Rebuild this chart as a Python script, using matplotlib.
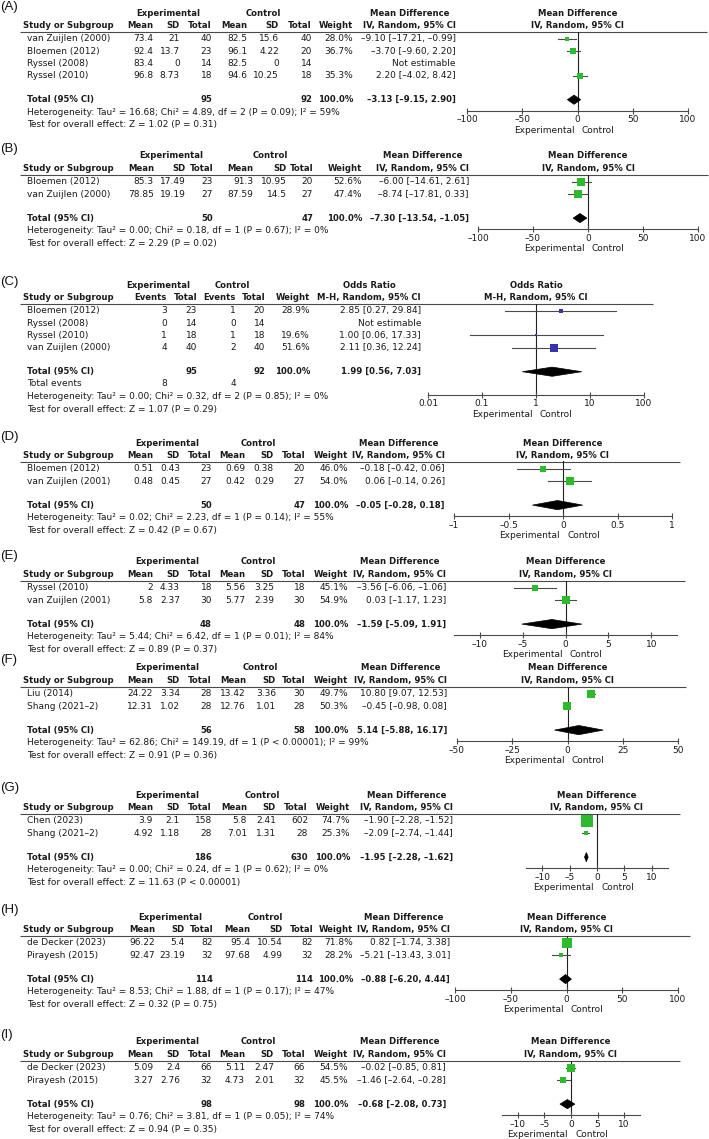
import matplotlib
matplotlib.use("Agg")
import matplotlib.pyplot as plt
from matplotlib.patches import Polygon
from matplotlib.ticker import NullLocator

# ---------------- DATA ----------------
# (A)
A_study = ["van Zuijlen (2000)", "Bloemen (2012)", "Ryssel (2008)", "Ryssel (2010)"]
A_exp_mean = [73.4, 92.4, 83.4, 96.8]
A_exp_sd = [21, 13.7, 0, 8.73]
A_exp_n = [40, 23, 14, 18]
A_ctl_mean = [82.5, 96.1, 82.5, 94.6]
A_ctl_sd = [15.6, 4.22, 0, 10.25]
A_ctl_n = [40, 20, 14, 18]
A_weight = [28.0, 36.7, None, 35.3]
A_est = [-9.10, -3.70, None, 2.20]
A_lo = [-17.21, -9.60, None, -4.02]
A_hi = [-0.99, 2.20, None, 8.42]
A_tot_n = [95, 92]
A_total = [-3.13, -9.15, 2.90]
A_het = "Heterogeneity: Tau² = 16.68; Chi² = 4.89, df = 2 (P = 0.09); I² = 59%"
A_test = "Test for overall effect: Z = 1.02 (P = 0.31)"
A_ticks = [-100, -50, 0, 50, 100]

# (B)
B_study = ["Bloemen (2012)", "van Zuijlen (2000)"]
B_exp_mean = [85.3, 78.85]
B_exp_sd = [17.49, 19.19]
B_exp_n = [23, 27]
B_ctl_mean = [91.3, 87.59]
B_ctl_sd = [10.95, 14.5]
B_ctl_n = [20, 27]
B_weight = [52.6, 47.4]
B_est = [-6.00, -8.74]
B_lo = [-14.61, -17.81]
B_hi = [2.61, 0.33]
B_tot_n = [50, 47]
B_total = [-7.30, -13.54, -1.05]
B_het = "Heterogeneity: Tau² = 0.00; Chi² = 0.18, df = 1 (P = 0.67); I² = 0%"
B_test = "Test for overall effect: Z = 2.29 (P = 0.02)"
B_ticks = [-100, -50, 0, 50, 100]

# (C) odds ratio
C_study = ["Bloemen (2012)", "Ryssel (2008)", "Ryssel (2010)", "van Zuijlen (2000)"]
C_exp_events = [3, 0, 1, 4]
C_exp_n = [23, 14, 18, 40]
C_ctl_events = [1, 0, 1, 2]
C_ctl_n = [20, 14, 18, 40]
C_weight = [28.9, None, 19.6, 51.6]
C_est = [2.85, None, 1.00, 2.11]
C_lo = [0.27, None, 0.06, 0.36]
C_hi = [29.84, None, 17.33, 12.24]
C_tot_n = [95, 92]
C_tot_events = [8, 4]
C_total = [1.99, 0.56, 7.03]
C_het = "Heterogeneity: Tau² = 0.00; Chi² = 0.32, df = 2 (P = 0.85); I² = 0%"
C_test = "Test for overall effect: Z = 1.07 (P = 0.29)"
C_ticks = [0.01, 0.1, 1, 10, 100]

# (D)
D_study = ["Bloemen (2012)", "van Zuijlen (2001)"]
D_exp_mean = [0.51, 0.48]
D_exp_sd = [0.43, 0.45]
D_exp_n = [23, 27]
D_ctl_mean = [0.69, 0.42]
D_ctl_sd = [0.38, 0.29]
D_ctl_n = [20, 27]
D_weight = [46.0, 54.0]
D_est = [-0.18, 0.06]
D_lo = [-0.42, -0.14]
D_hi = [0.06, 0.26]
D_tot_n = [50, 47]
D_total = [-0.05, -0.28, 0.18]
D_het = "Heterogeneity: Tau² = 0.02; Chi² = 2.23, df = 1 (P = 0.14); I² = 55%"
D_test = "Test for overall effect: Z = 0.42 (P = 0.67)"
D_ticks = [-1, -0.5, 0, 0.5, 1]

# (E)
E_study = ["Ryssel (2010)", "van Zuijlen (2001)"]
E_exp_mean = [2, 5.8]
E_exp_sd = [4.33, 2.37]
E_exp_n = [18, 30]
E_ctl_mean = [5.56, 5.77]
E_ctl_sd = [3.25, 2.39]
E_ctl_n = [18, 30]
E_weight = [45.1, 54.9]
E_est = [-3.56, 0.03]
E_lo = [-6.06, -1.17]
E_hi = [-1.06, 1.23]
E_tot_n = [48, 48]
E_total = [-1.59, -5.09, 1.91]
E_het = "Heterogeneity: Tau² = 5.44; Chi² = 6.42, df = 1 (P = 0.01); I² = 84%"
E_test = "Test for overall effect: Z = 0.89 (P = 0.37)"
E_ticks = [-10, -5, 0, 5, 10]

# (F)
F_study = ["Liu (2014)", "Shang (2021–2)"]
F_exp_mean = [24.22, 12.31]
F_exp_sd = [3.34, 1.02]
F_exp_n = [28, 28]
F_ctl_mean = [13.42, 12.76]
F_ctl_sd = [3.36, 1.01]
F_ctl_n = [30, 28]
F_weight = [49.7, 50.3]
F_est = [10.80, -0.45]
F_lo = [9.07, -0.98]
F_hi = [12.53, 0.08]
F_tot_n = [56, 58]
F_total = [5.14, -5.88, 16.17]
F_het = "Heterogeneity: Tau² = 62.86; Chi² = 149.19, df = 1 (P < 0.00001); I² = 99%"
F_test = "Test for overall effect: Z = 0.91 (P = 0.36)"
F_ticks = [-50, -25, 0, 25, 50]

# (G)
G_study = ["Chen (2023)", "Shang (2021–2)"]
G_exp_mean = [3.9, 4.92]
G_exp_sd = [2.1, 1.18]
G_exp_n = [158, 28]
G_ctl_mean = [5.8, 7.01]
G_ctl_sd = [2.41, 1.31]
G_ctl_n = [602, 28]
G_weight = [74.7, 25.3]
G_est = [-1.90, -2.09]
G_lo = [-2.28, -2.74]
G_hi = [-1.52, -1.44]
G_tot_n = [186, 630]
G_total = [-1.95, -2.28, -1.62]
G_het = "Heterogeneity: Tau² = 0.00; Chi² = 0.24, df = 1 (P = 0.62); I² = 0%"
G_test = "Test for overall effect: Z = 11.63 (P < 0.00001)"
G_ticks = [-10, -5, 0, 5, 10]

# (H)
H_study = ["de Decker (2023)", "Pirayesh (2015)"]
H_exp_mean = [96.22, 92.47]
H_exp_sd = [5.4, 23.19]
H_exp_n = [82, 32]
H_ctl_mean = [95.4, 97.68]
H_ctl_sd = [10.54, 4.99]
H_ctl_n = [82, 32]
H_weight = [71.8, 28.2]
H_est = [0.82, -5.21]
H_lo = [-1.74, -13.43]
H_hi = [3.38, 3.01]
H_tot_n = [114, 114]
H_total = [-0.88, -6.20, 4.44]
H_het = "Heterogeneity: Tau² = 8.53; Chi² = 1.88, df = 1 (P = 0.17); I² = 47%"
H_test = "Test for overall effect: Z = 0.32 (P = 0.75)"
H_ticks = [-100, -50, 0, 50, 100]

# (I)
I_study = ["de Decker (2023)", "Pirayesh (2015)"]
I_exp_mean = [5.09, 3.27]
I_exp_sd = [2.4, 2.76]
I_exp_n = [66, 32]
I_ctl_mean = [5.11, 4.73]
I_ctl_sd = [2.47, 2.01]
I_ctl_n = [66, 32]
I_weight = [54.5, 45.5]
I_est = [-0.02, -1.46]
I_lo = [-0.85, -2.64]
I_hi = [0.81, -0.28]
I_tot_n = [98, 98]
I_total = [-0.68, -2.08, 0.73]
I_het = "Heterogeneity: Tau² = 0.76; Chi² = 3.81, df = 1 (P = 0.05); I² = 74%"
I_test = "Test for overall effect: Z = 0.94 (P = 0.35)"
I_ticks = [-10, -5, 0, 5, 10]

# ---------------- STYLE / LAYOUT ----------------
W, H = 709, 1139
FONT = "DejaVu Sans"
FS = 6.5
FSB = 6.15
GREEN = "#2dbb2d"
BLUE = "#3535a8"
LINEC = "#4a4a4a"
ROW = 12.3
DASH = "–"

fig = plt.figure(figsize=(W / 100, H / 100), dpi=100)
fig.patch.set_facecolor("white")
bg = fig.add_axes([0, 0, 1, 1])
bg.set_xlim(0, W)
bg.set_ylim(H, 0)
bg.axis("off")
renderer = fig.canvas.get_renderer()


def mfmt(v):
    return f"{v:g}".replace("-", DASH)


def cifmt(e, l, h):
    return f"{e:.2f} [{l:.2f}, {h:.2f}]".replace("-", DASH)


def txt(x, y, s, ha="left", bold=False, **kw):
    return bg.text(x, y, s, ha=ha, va="center", fontsize=FSB if bold else FS,
                   family=FONT, fontweight="bold" if bold else "normal",
                   color="#1a1a1a", **kw)


def draw_panel(lab, lab_y, h1, colx, grp_x, grp_names, head2, eff_names,
               names, cells, tot_cells, extra_cells, het, test,
               fx, xlim, ticks, est, lo, hi, wts, total, color, line_end,
               log=False, wscale=0.15):
    h2 = h1 + 12.3
    line_y = h1 + 18.5
    rows_y = [h1 + 25.8 + i * ROW for i in range(len(names))]
    tot_y = rows_y[-1] + 24
    y = tot_y
    extra_y = []
    for _ in extra_cells:
        y += ROW
        extra_y.append(y)
    het_y = y + 12.8
    test_y = het_y + 12.3
    axis_y = het_y - 1.5

    bg.text(0, lab_y, lab, ha="left", va="center", fontsize=9.5,
            family="Liberation Sans", color="#111")
    # headers
    for gx, gn in zip(grp_x, grp_names):
        txt(gx, h1, gn, ha="center", bold=True)
    txt(23, h2, "Study or Subgroup", bold=True)
    for x, hname in zip(colx[:-1], head2[:-1]):
        txt(x, h2, hname, ha="right", bold=True)
    t2 = txt(colx[-1], h2, eff_names[1], ha="right", bold=True)
    wdt = t2.get_window_extent(renderer=renderer).width
    txt(colx[-1] - wdt / 2, h1, eff_names[0], ha="center", bold=True)
    bg.plot([20, line_end], [line_y, line_y], color=LINEC, lw=0.8,
            solid_capstyle="butt")

    # study rows
    for ry, nm, row in zip(rows_y, names, cells):
        txt(27, ry, nm)
        for x, c in zip(colx, row):
            txt(x, ry, c, ha="right")
    # total row
    txt(27, tot_y, "Total (95% CI)", bold=True)
    for x, c in zip(colx, tot_cells):
        txt(x, tot_y, c, ha="right", bold=True)
    for ey, row in zip(extra_y, extra_cells):
        txt(27, ey, row[0])
        for x, c in zip(colx, row[1:]):
            txt(x, ey, c, ha="right")
    txt(27, het_y, het)
    txt(27, test_y, test)

    # forest axes
    fax = fig.add_axes([fx[0] / W, 1 - axis_y / H, (fx[1] - fx[0]) / W,
                        (axis_y - line_y) / H])
    if log:
        fax.set_xscale("log")
    fax.set_xlim(xlim)
    fax.set_ylim(axis_y, line_y)
    fax.patch.set_alpha(0)
    for s in ["top", "right", "left"]:
        fax.spines[s].set_visible(False)
    fax.spines["bottom"].set_color(LINEC)
    fax.spines["bottom"].set_linewidth(0.8)
    fax.set_yticks([])
    fax.set_xticks(ticks)
    fax.set_xticklabels([mfmt(t) for t in ticks],
                        fontsize=FS, family=FONT, color="#1a1a1a")
    fax.xaxis.set_minor_locator(NullLocator())
    fax.tick_params(axis="x", direction="inout", length=5, width=0.8,
                    pad=0.5, color=LINEC)
    ref = 1 if log else 0
    fax.axvline(ref, color="#222", lw=0.8, zorder=1)
    for ry, e, l, h, w in zip(rows_y, est, lo, hi, wts):
        if e is None:
            continue
        fax.plot([l, h], [ry, ry], color=LINEC, lw=0.8, zorder=2)
        side = wscale * w
        fax.scatter([e], [ry], marker="s", s=(side * 0.72) ** 2, color=color,
                    linewidths=0, zorder=3)
    d = 4.6
    fax.add_patch(Polygon([[total[1], tot_y], [total[0], tot_y - d],
                           [total[2], tot_y], [total[0], tot_y + d]],
                          closed=True, facecolor="black", edgecolor="black",
                          lw=0.5, zorder=3, clip_on=False))
    # header over forest
    cx = (fx[0] + fx[1]) / 2
    txt(cx, h1, eff_names[0], ha="center", bold=True)
    txt(cx, h2, eff_names[1], ha="center", bold=True)
    # direction labels
    fax.annotate("Experimental", xy=(ref, 0), xycoords=("data", "axes fraction"),
                 xytext=(-3, -19.5), textcoords="offset pixels", ha="right",
                 va="center", fontsize=FS, family=FONT, color="#1a1a1a")
    fax.annotate("Control", xy=(ref, 0), xycoords=("data", "axes fraction"),
                 xytext=(4, -19.5), textcoords="offset pixels", ha="left",
                 va="center", fontsize=FS, family=FONT, color="#1a1a1a")


MD_HEAD = ["Mean", "SD", "Total", "Mean", "SD", "Total", "Weight", "IV, Random, 95% CI"]
MD_NAMES = ("Mean Difference", "IV, Random, 95% CI")


def md_panel(lab, lab_y, h1, colx, grp_x, fx, xlim, line_end, study, em, esd, en,
             cm, csd, cn, wt, est, lo, hi, tot_n, total, het, test, ticks):
    cells = []
    for i in range(len(study)):
        ci = cifmt(est[i], lo[i], hi[i]) if est[i] is not None else "Not estimable"
        w = f"{wt[i]:.1f}%" if wt[i] is not None else ""
        cells.append([mfmt(em[i]), mfmt(esd[i]), str(en[i]), mfmt(cm[i]),
                      mfmt(csd[i]), str(cn[i]), w, ci])
    tot_cells = ["", "", str(tot_n[0]), "", "", str(tot_n[1]), "100.0%",
                 cifmt(*total)]
    draw_panel(lab, lab_y, h1, colx, grp_x, ["Experimental", "Control"], MD_HEAD,
               MD_NAMES, study, cells, tot_cells, [], het, test, fx, xlim, ticks,
               est, lo, hi, wt, total, GREEN, line_end)


md_panel("(A)", 7, 13, [153, 180, 212, 247, 279, 312, 353, 456], [168, 263],
         (467, 688), (-100, 100), 707, A_study, A_exp_mean, A_exp_sd, A_exp_n,
         A_ctl_mean, A_ctl_sd, A_ctl_n, A_weight, A_est, A_lo, A_hi, A_tot_n,
         A_total, A_het, A_test, A_ticks)

md_panel("(B)", 149, 156, [154, 186, 213, 253, 287, 313, 362, 469], [171, 270],
         (478, 698), (-100, 100), 708, B_study, B_exp_mean, B_exp_sd, B_exp_n,
         B_ctl_mean, B_ctl_sd, B_ctl_n, B_weight, B_est, B_lo, B_hi, B_tot_n,
         B_total, B_het, B_test, B_ticks)

# (C)
c_cells = []
for i in range(len(C_study)):
    ci = cifmt(C_est[i], C_lo[i], C_hi[i]) if C_est[i] is not None else "Not estimable"
    w = f"{C_weight[i]:.1f}%" if C_weight[i] is not None else ""
    c_cells.append([str(C_exp_events[i]), str(C_exp_n[i]), str(C_ctl_events[i]),
                    str(C_ctl_n[i]), w, ci])
c_tot = ["", str(C_tot_n[0]), "", str(C_tot_n[1]), "100.0%", cifmt(*C_total)]
c_extra = [["Total events", str(C_tot_events[0]), "", str(C_tot_events[1]), "", "", ""]]
draw_panel("(C)", 282, 285, [167, 197, 236, 265, 310, 421], [158, 232],
           ["Experimental", "Control"],
           ["Events", "Total", "Events", "Total", "Weight", "M-H, Random, 95% CI"],
           ("Odds Ratio", "M-H, Random, 95% CI"), C_study, c_cells, c_tot, c_extra,
           C_het, C_test, (428, 644), (0.01, 100), C_ticks, C_est, C_lo, C_hi,
           C_weight, C_total, BLUE, 653, log=True, wscale=0.15)

md_panel("(D)", 437, 443, [153, 180, 212, 245, 274, 305, 348, 445], [167, 258],
         (454, 672), (-1, 1), 680, D_study, D_exp_mean, D_exp_sd, D_exp_n,
         D_ctl_mean, D_ctl_sd, D_ctl_n, D_weight, D_est, D_lo, D_hi, D_tot_n,
         D_total, D_het, D_test, D_ticks)

md_panel("(E)", 556, 562, [153, 180, 212, 245, 274, 305, 348, 446], [167, 258],
         (454, 677), (-13, 13), 685, E_study, E_exp_mean, E_exp_sd, E_exp_n,
         E_ctl_mean, E_ctl_sd, E_ctl_n, E_weight, E_est, E_lo, E_hi, E_tot_n,
         E_total, E_het, E_test, E_ticks)

md_panel("(F)", 660, 668, [153, 180, 212, 246, 276, 305, 348, 447], [167, 260],
         (457, 678), (-50, 50), 686, F_study, F_exp_mean, F_exp_sd, F_exp_n,
         F_ctl_mean, F_ctl_sd, F_ctl_n, F_weight, F_est, F_lo, F_hi, F_tot_n,
         F_total, F_het, F_test, F_ticks)

md_panel("(G)", 788, 795, [153, 180, 212, 247, 276, 308, 350, 453], [167, 262],
         (526, 668), (-13, 13), 680, G_study, G_exp_mean, G_exp_sd, G_exp_n,
         G_ctl_mean, G_ctl_sd, G_ctl_n, G_weight, G_est, G_lo, G_hi, G_tot_n,
         G_total, G_het, G_test, G_ticks)

md_panel("(H)", 910, 917, [155, 185, 213, 250, 283, 313, 353, 450], [170, 265],
         (455, 678), (-100, 100), 690, H_study, H_exp_mean, H_exp_sd, H_exp_n,
         H_ctl_mean, H_ctl_sd, H_ctl_n, H_weight, H_est, H_lo, H_hi, H_tot_n,
         H_total, H_het, H_test, H_ticks)

md_panel("(I)", 1035, 1042, [153, 180, 212, 245, 274, 305, 348, 446], [167, 258],
         (502, 640), (-13, 13), 680, I_study, I_exp_mean, I_exp_sd, I_exp_n,
         I_ctl_mean, I_ctl_sd, I_ctl_n, I_weight, I_est, I_lo, I_hi, I_tot_n,
         I_total, I_het, I_test, I_ticks)

fig.savefig("out.png", dpi=100, facecolor="white")
